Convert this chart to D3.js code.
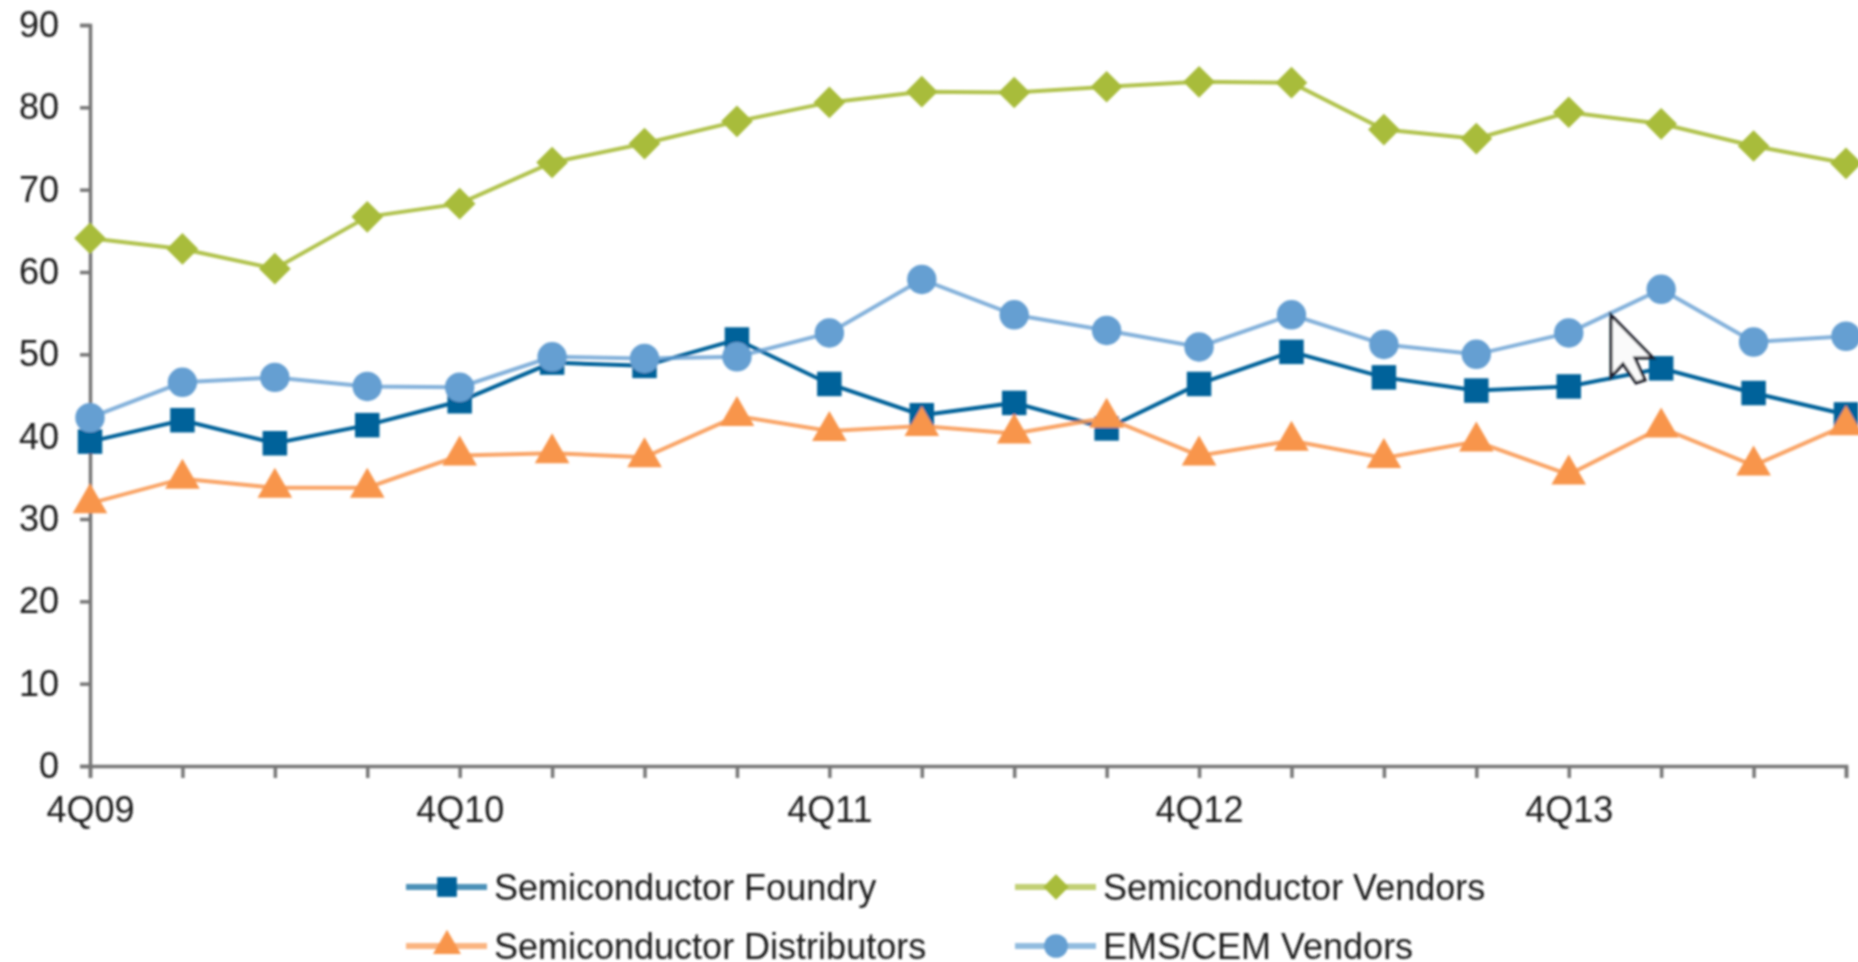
<!DOCTYPE html>
<html>
<head>
<meta charset="utf-8">
<script src="https://cdn.jsdelivr.net/npm/d3@7"></script>
<style>
html, body { margin: 0; padding: 0; background: #fff; overflow: hidden; }
svg { display: block; }
text { font-family: "Liberation Sans", Arial, sans-serif; fill: #1c1c1c; }
</style>
</head>
<body>
<svg></svg>
<script>
var w = 1858
var h = 962

var quarters = ["4Q09","1Q10","2Q10","3Q10","4Q10","1Q11","2Q11","3Q11","4Q11","1Q12","2Q12","3Q12","4Q12","1Q13","2Q13","3Q13","4Q13","1Q14","2Q14","3Q14"]
var labelledQuarters = ["4Q09","4Q10","4Q11","4Q12","4Q13"]
var yTicks = [0,10,20,30,40,50,60,70,80,90]

var foundry = [39.4,42,39.2,41.4,44.3,49,48.6,51.8,46.4,42.6,44.1,41,46.4,50.3,47.2,45.6,46.1,48.3,45.3,42.7]
var vendors = [64.1,62.8,60.4,66.7,68.3,73.3,75.6,78.3,80.6,81.9,81.8,82.5,83.1,83,77.3,76.2,79.4,78,75.3,73.2]
var distributors = [31.9,34.9,33.8,33.8,37.7,38,37.5,42.5,40.7,41.3,40.4,42.3,37.7,39.5,37.4,39.4,35.4,41.1,36.5,41.4]
var ems = [42.3,46.6,47.2,46.1,46,49.7,49.5,49.7,52.6,59.1,54.8,52.9,50.9,54.8,51.2,50,52.6,57.9,51.5,52.2]

var seriesNames = ["Semiconductor Foundry","Semiconductor Vendors","Semiconductor Distributors","EMS/CEM Vendors"]
var seriesValues = [foundry, vendors, distributors, ems]
var seriesColors = ["#00629a","#a8bc3b","#f8954c","#659fd2"]
var lineOpacity = [1, 0.9, 0.85, 0.8]
var seriesSymbols = [d3.symbolSquare, d3.symbolDiamond2, d3.symbolTriangle, d3.symbolCircle]
var symbolSizes = [600, 640, 520, 680]

var svg = d3.select("svg")
	.attr("width", w)
	.attr("height", h)
	.style("background-color", "white")

// the source picture is an enlarged screenshot, so everything sits a bit soft
var filter = svg.append("defs").append("filter")
	.attr("id", "soft")
	.attr("filterUnits", "userSpaceOnUse")
	.attr("x", 0).attr("y", 0)
	.attr("width", w).attr("height", h)
filter.append("feGaussianBlur").attr("stdDeviation", 1)

var chart = svg.append("g").attr("filter", "url(#soft)")

var x = d3.scalePoint().domain(quarters).range([90, 1846])
var y = d3.scaleLinear().domain([0, 90]).range([766, 25])

var yAxis = chart.append("g")
	.attr("transform", "translate(90,0)")
	.call(d3.axisLeft(y).tickValues(yTicks).tickSize(10).tickPadding(21))

var xAxis = chart.append("g")
	.attr("transform", "translate(0,766)")
	.call(d3.axisBottom(x)
		.tickSize(12)
		.tickPadding(18)
		.tickFormat(function(d){ return labelledQuarters.includes(d) ? d : "" }))

// only every fourth quarter has a label
xAxis.selectAll(".tick text")
	.filter(function(d){ return !labelledQuarters.includes(d) })
	.remove()

chart.selectAll(".domain, .tick line")
	.attr("stroke", "#767676")
	.attr("stroke-width", 3.5)
chart.selectAll(".tick text")
	.style("font-size", "36px")
	.style("font-family", "'Liberation Sans', Arial, sans-serif")
	.attr("fill", "#1c1c1c")

var line = d3.line()
	.x(function(d,i){ return x(quarters[i]) })
	.y(function(d){ return y(d) })

seriesValues.forEach(function(values, s){
	var g = chart.append("g")
	g.append("path")
		.datum(values)
		.attr("d", line)
		.attr("fill", "none")
		.attr("stroke", seriesColors[s])
		.attr("stroke-width", 4)
		.attr("stroke-opacity", lineOpacity[s])

	g.selectAll("path.marker")
		.data(values)
		.join("path")
		.attr("class", "marker")
		.attr("fill", seriesColors[s])
		.attr("d", d3.symbol().type(seriesSymbols[s]).size(symbolSizes[s]))
		.attr("transform", function(d,i){
			return "translate(" + x(quarters[i]) + "," + y(d) + ")"
		})
})

// legend, two columns and two rows under the axis
var legendX = [406, 1015]
var legendY = [887, 946]
var legend = chart.selectAll("g.legendItem")
	.data(seriesNames)
	.join("g")
	.attr("class", "legendItem")
	.attr("transform", function(d,i){
		return "translate(" + legendX[i % 2] + "," + legendY[Math.floor(i / 2)] + ")"
	})
legend.append("line")
	.attr("x1", 0).attr("x2", 81)
	.attr("stroke", function(d,i){ return seriesColors[i] })
	.attr("stroke-width", 6)
	.attr("stroke-opacity", 0.7)
legend.append("path")
	.attr("transform", "translate(41,0)")
	.attr("fill", function(d,i){ return seriesColors[i] })
	.attr("d", function(d,i){
		return d3.symbol().type(seriesSymbols[i]).size(symbolSizes[i] * 0.65)()
	})
legend.append("text")
	.attr("x", 88)
	.attr("dy", "0.35em")
	.style("font-size", "36px")
	.text(function(d){ return d })

// mouse pointer that was caught in the screenshot
chart.append("path")
	.attr("d", "M1611,315 L1611,377 L1623,364 L1636,383 L1645,380 L1635,358 L1653,358 Z")
	.attr("fill", "#fafafa")
	.attr("stroke", "#1c1f29")
	.attr("stroke-width", 3)
</script>
</body>
</html>
